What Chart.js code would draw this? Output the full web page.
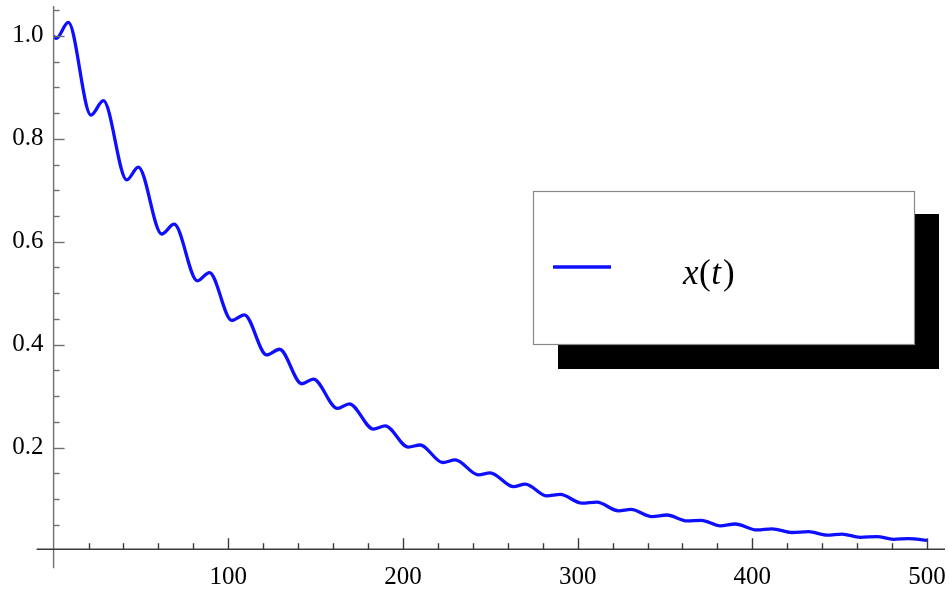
<!DOCTYPE html>
<html lang="en">

<head>
    <meta charset="UTF-8">
    <title>x(t)</title>
    <script src="https://cdn.jsdelivr.net/npm/chart.js@4.4.0/dist/chart.umd.min.js"></script>
    <style>
        body { margin: 0; background: #ffffff; }
    </style>
</head>

<body>
    <canvas id="myChart" width="949" height="594"></canvas>
    <script>
        // curve: turning points of the damped wiggle
        var tValues = [0, 1.5, 8.4, 21.4, 28.5, 41.9, 48.5, 61.9, 69.0, 82.3, 89.2, 102.0, 109.2, 122.0, 129.3,
            142.1, 148.7, 162.5, 169.3, 183.1, 189.8, 203.1, 209.8, 222.8, 229.9, 243.2, 249.9, 263.3, 270.0,
            282.4, 290.0, 302.4, 311.0, 323.4, 330.5, 342.5, 351.1, 362.6, 370.8, 381.6, 390.2, 402.6, 411.2,
            422.7, 432.2, 442.7, 451.3, 461.8, 471.3, 480.8, 489.4, 500];
        var xValues = [1.000, 0.995, 1.026, 0.846, 0.874, 0.720, 0.745, 0.615, 0.634, 0.524, 0.540, 0.447, 0.458, 0.380, 0.391,
            0.324, 0.333, 0.276, 0.285, 0.236, 0.242, 0.201, 0.205, 0.171, 0.176, 0.147, 0.151, 0.124, 0.129,
            0.106, 0.109, 0.092, 0.094, 0.077, 0.080, 0.066, 0.069, 0.0575, 0.0585, 0.048, 0.0515, 0.040, 0.042,
            0.035, 0.0366, 0.030, 0.032, 0.0256, 0.027, 0.0218, 0.023, 0.0198];

        var xTicks = [100, 200, 300, 400, 500];
        var yTicks = [0.2, 0.4, 0.6, 0.8, 1.0];
        var seriesLabel = 'x(t)';

        var serif = "'Liberation Serif', 'Times New Roman', serif";
        var blue = 'rgb(15, 15, 255)';

        var points = tValues.map(function (t, i) {
            return { x: t, y: xValues[i] };
        });

        function line(ctx, x1, y1, x2, y2) {
            ctx.beginPath();
            ctx.moveTo(x1, y1);
            ctx.lineTo(x2, y2);
            ctx.stroke();
        }

        function noPadding(s) {
            s.paddingTop = 0;
            s.paddingBottom = 0;
            s.paddingLeft = 0;
            s.paddingRight = 0;
        }

        // mathematica style axes: crossing at origin, ticks pointing inward
        var axesPlugin = {
            id: 'mmaAxes',
            afterDraw: function (chart) {
                var ctx = chart.ctx;
                var xs = chart.scales.x;
                var ys = chart.scales.y;
                var x0 = xs.getPixelForValue(0);
                var y0 = ys.getPixelForValue(0.0025);

                ctx.save();
                ctx.lineWidth = 1.4;

                ctx.strokeStyle = '#707070';
                line(ctx, x0, ys.top, x0, y0 + 19);
                for (var i = 1; i <= 21; i++) {
                    var v = i * 0.05;
                    var py = Math.round(ys.getPixelForValue(v)) + 0.5;
                    line(ctx, x0, py, x0 + (i % 4 === 0 ? 11 : 6), py);
                }

                ctx.strokeStyle = '#3a3a3a';
                line(ctx, x0 - 17, y0, xs.right + 18, y0);
                for (var j = 1; j <= 25; j++) {
                    var px = Math.round(xs.getPixelForValue(j * 20)) + 0.5;
                    line(ctx, px, y0, px, y0 - (j % 5 === 0 ? 11 : 6));
                }
                ctx.restore();
            }
        };

        // boxed legend with a hard black drop shadow
        var legendPlugin = {
            id: 'shadowLegend',
            afterDraw: function (chart) {
                var ctx = chart.ctx;
                var bx = 533, by = 191, bw = 381, bh = 153;

                ctx.save();
                ctx.fillStyle = '#000000';
                ctx.fillRect(bx + 25, by + 23, bw, bh + 2);
                ctx.fillStyle = '#ffffff';
                ctx.fillRect(bx, by, bw, bh);
                ctx.strokeStyle = '#888888';
                ctx.lineWidth = 1.2;
                ctx.strokeRect(bx + 0.5, by + 0.5, bw, bh);

                ctx.strokeStyle = blue;
                ctx.lineWidth = 3.5;
                line(ctx, bx + 20, by + 76, bx + 78, by + 76);

                ctx.fillStyle = '#000000';
                ctx.textBaseline = 'alphabetic';
                var tx = bx + 150, ty = by + 93;
                var parts = [
                    ['x', 'italic'], ['(', 'normal'], ['t', 'italic'], [')', 'normal']
                ];
                parts.forEach(function (p) {
                    ctx.font = p[1] + ' 35px ' + serif;
                    ctx.fillText(p[0], tx, ty);
                    tx += ctx.measureText(p[0]).width + (p[0] === 't' ? 2 : 0.5);
                });
                ctx.restore();
            }
        };

        var ctx = document.getElementById('myChart');
        var myChart = new Chart(ctx, {
            type: 'line',
            data: {
                datasets: [{
                    label: seriesLabel,
                    data: points,
                    borderColor: blue,
                    borderWidth: 3.3,
                    pointRadius: 0,
                    fill: false,
                    cubicInterpolationMode: 'monotone'
                }]
            },
            options: {
                responsive: false,
                animation: false,
                layout: {
                    padding: { top: 6, right: 22, left: 0, bottom: 0 }
                },
                plugins: {
                    legend: { display: false },
                    tooltip: { enabled: false }
                },
                scales: {
                    x: {
                        type: 'linear',
                        min: 0,
                        max: 500,
                        grid: { display: false, drawTicks: false },
                        border: { display: false },
                        afterBuildTicks: function (s) {
                            s.ticks = xTicks.map(function (v) { return { value: v }; });
                        },
                        afterFit: function (s) {
                            s.height = 43.5;
                            noPadding(s);
                        },
                        ticks: {
                            autoSkip: false,
                            maxRotation: 0,
                            padding: 12,
                            color: '#000000',
                            font: { family: serif, size: 25 },
                            callback: function (v) { return String(v); }
                        }
                    },
                    y: {
                        type: 'linear',
                        min: 0,
                        max: 1.058,
                        grid: { display: false, drawTicks: false },
                        border: { display: false },
                        afterBuildTicks: function (s) {
                            s.ticks = yTicks.map(function (v) { return { value: v }; });
                        },
                        afterFit: function (s) {
                            s.width = 53.6;
                            noPadding(s);
                        },
                        ticks: {
                            padding: 10,
                            color: '#000000',
                            font: { family: serif, size: 25 },
                            callback: function (v) { return v.toFixed(1); }
                        }
                    }
                }
            },
            plugins: [axesPlugin, legendPlugin]
        });
    </script>
</body>

</html>
